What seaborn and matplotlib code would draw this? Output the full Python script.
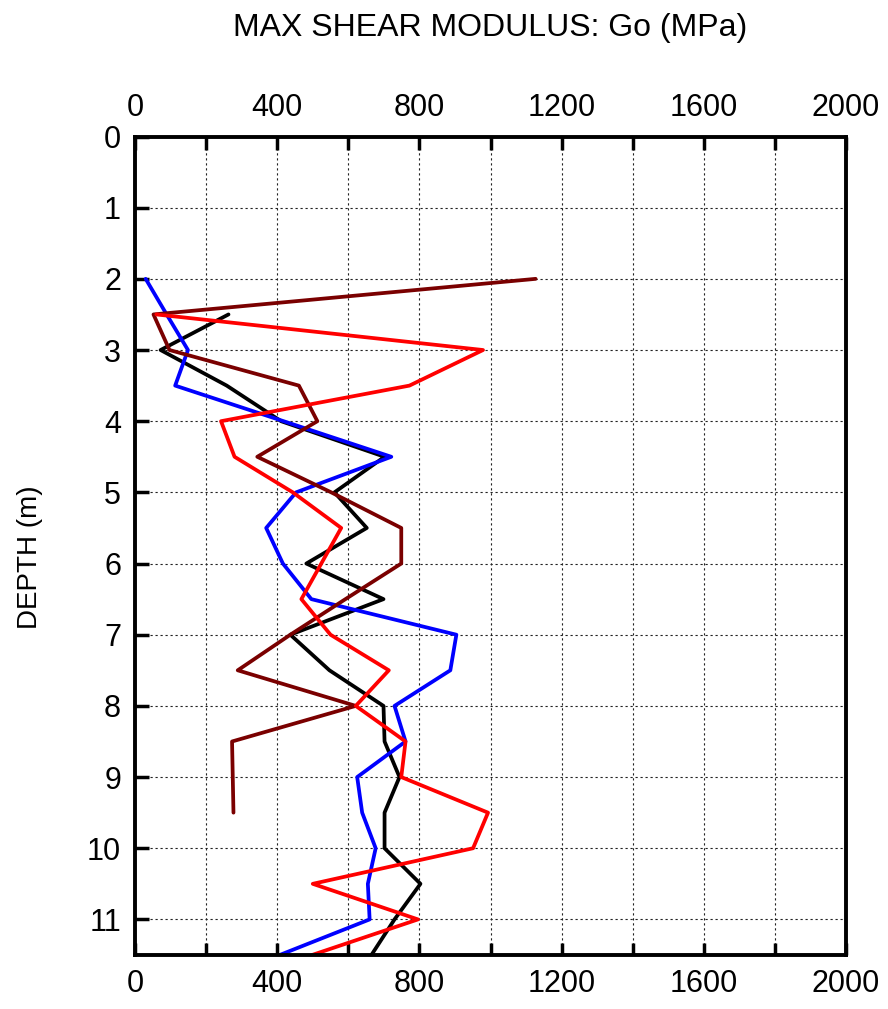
import numpy as np
import pandas as pd
import matplotlib
matplotlib.use("Agg")
import matplotlib.pyplot as plt
import seaborn as sns
from matplotlib.ticker import MultipleLocator

# ---- data (depth in m, Go in MPa) ----
depth_black = [2.5, 3.0, 3.5, 4.0, 4.5, 5.0, 5.5, 6.0, 6.5, 7.0, 7.5, 8.0, 8.5, 9.0, 9.5, 10.0, 10.5, 11.0, 11.5]
go_black = [263, 72, 258, 411, 702, 561, 652, 482, 699, 437, 547, 699, 702, 744, 702, 702, 803, 730, 665]

depth_blue = [2.0, 2.5, 3.0, 3.5, 4.0, 4.5, 5.0, 5.5, 6.0, 6.5, 7.0, 7.5, 8.0, 8.5, 9.0, 9.5, 10.0, 10.5, 11.0, 11.5]
go_blue = [30, 89, 149, 113, 418, 721, 453, 369, 416, 496, 904, 887, 730, 761, 625, 639, 677, 655, 660, 407]

depth_maroon = [2.0, 2.5, 3.0, 3.5, 4.0, 4.5, 5.0, 5.5, 6.0, 6.5, 7.0, 7.5, 8.0, 8.5, 9.0, 9.5]
go_maroon = [1127, 52, 97, 461, 513, 344, 552, 749, 749, 592, 437, 289, 621, 273, 275, 277]

depth_red = [2.5, 3.0, 3.5, 4.0, 4.5, 5.0, 5.5, 6.0, 6.5, 7.0, 7.5, 8.0, 8.5, 9.0, 9.5, 10.0, 10.5, 11.0, 11.5]
go_red = [60, 979, 772, 242, 280, 444, 580, 524, 468, 550, 714, 621, 761, 749, 993, 951, 500, 796, 498]

series_names = ["Black", "Blue", "Maroon", "Red"]
series_colors = ["#000000", "#0000FF", "#7A0000", "#FF0000"]

x_ticks = [0, 400, 800, 1200, 1600, 2000]
y_ticks = list(range(0, 12))

frames = []
for name, d, g in zip(series_names,
                      [depth_black, depth_blue, depth_maroon, depth_red],
                      [go_black, go_blue, go_maroon, go_red]):
    frames.append(pd.DataFrame({"series": name, "depth": d, "Go": g}))
df = pd.concat(frames, ignore_index=True)

sns.set_theme(style="white")
narrow = ["Liberation Sans Narrow", "Liberation Sans", "DejaVu Sans"]
plt.rcParams["font.family"] = narrow
plt.rcParams["text.color"] = "black"
plt.rcParams["axes.labelcolor"] = "black"
plt.rcParams["xtick.color"] = "black"
plt.rcParams["ytick.color"] = "black"

fig = plt.figure(figsize=(8.88, 10.09), dpi=100)
ax = fig.add_axes([135 / 888, 1 - 955 / 1009, (846 - 135) / 888, (955 - 136.5) / 1009])

sns.lineplot(data=df, x="Go", y="depth", hue="series", units="series",
             palette=dict(zip(series_names, series_colors)),
             hue_order=series_names, sort=False, estimator=None,
             linewidth=2.7, legend=False, ax=ax)

ax.set_xlim(0, 2000)
ax.set_ylim(11.5, 0)
ax.xaxis.set_minor_locator(MultipleLocator(200))
ax.set_xticks(x_ticks)
ax.set_yticks(y_ticks)

ax.grid(True, which="both", axis="x", linestyle=(0, (2, 2.5)), color="#222222", linewidth=0.8)
ax.grid(True, which="major", axis="y", linestyle=(0, (2, 2.5)), color="#222222", linewidth=0.8)
ax.set_axisbelow(True)

ax.tick_params(axis="x", which="both", direction="in", top=True, bottom=True,
               labeltop=True, labelbottom=True, length=9, width=2.5, color="black",
               labelsize=22, pad=10, labelcolor="black")
ax.tick_params(axis="y", which="major", direction="in", left=True, right=False,
               length=10, width=2.5, color="black", labelsize=22, pad=10,
               labelcolor="black")

for s in ax.spines.values():
    s.set_visible(True)
    s.set_linewidth(2.8)
    s.set_color("black")

ax.set_xlabel("")
ax.set_ylabel("DEPTH (m)", fontsize=20, color="black")
ax.yaxis.set_label_coords(-0.130, 0.486)
fig.text(0.552, 0.972, "MAX SHEAR MODULUS: Go (MPa)", ha="center", va="center",
         fontsize=23, family=narrow, color="black")

fig.savefig("out.png", dpi=100, facecolor="white")
